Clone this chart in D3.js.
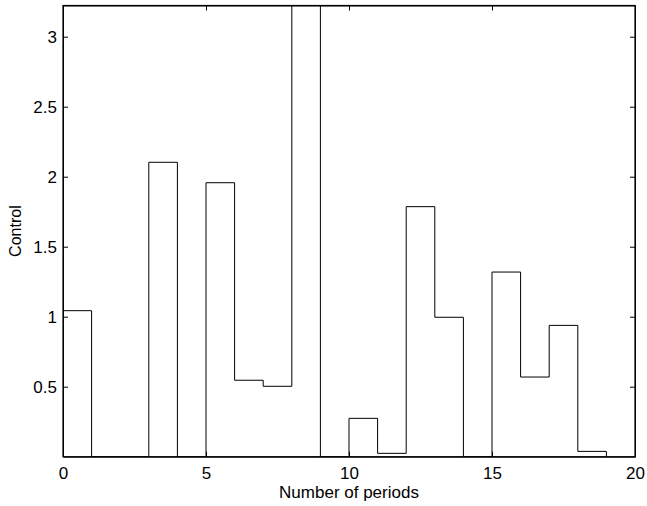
<!DOCTYPE html>
<html>
<head>
<meta charset="utf-8">
<script src="https://cdn.jsdelivr.net/npm/d3@7"></script>
<style>
  html, body { margin: 0; padding: 0; background: #fff; }
  svg { display: block; }
  .axis path, .axis line { stroke: #000; }
</style>
</head>
<body>
<script>
// Data: stairs plot of control per period
const periods = [0, 1, 2, 3, 4, 5, 6, 7, 8, 9, 10, 11, 12, 13, 14, 15, 16, 17, 18, 19];
const control = [1.043, 0, 0, 2.103, 0, 1.957, 0.546, 0.503, 3.5, 0, 0.274, 0.024, 1.786, 0.996, 0, 1.319, 0.569, 0.938, 0.038, 0];
const xTicks = [0, 5, 10, 15, 20];
const yTicks = [0.5, 1, 1.5, 2, 2.5, 3];
const xLabel = "Number of periods";
const yLabel = "Control";

const W = 647, H = 506;
const margin = { left: 63, right: 12, top: 5.5, bottom: 49.3 };
const iw = W - margin.left - margin.right;
const ih = H - margin.top - margin.bottom;
const FONT = '"Liberation Sans", Arial, Helvetica, sans-serif';

const svg = d3.select("body").append("svg").attr("width", W).attr("height", H);

const x = d3.scaleLinear().domain([0, 20]).range([margin.left, margin.left + iw]);
const y = d3.scaleLinear().domain([0, 3.223]).range([margin.top + ih, margin.top]);

svg.append("defs").append("clipPath").attr("id", "clip")
  .append("rect").attr("x", margin.left).attr("y", margin.top).attr("width", iw).attr("height", ih);

const data = periods.map((p, i) => ({ p, v: control[i] }));
const line = d3.line().x(d => x(d.p)).y(d => y(d.v)).curve(d3.curveStepAfter);

svg.append("path")
  .datum(data)
  .attr("clip-path", "url(#clip)")
  .attr("d", line)
  .attr("fill", "none")
  .attr("stroke", "#000")
  .attr("stroke-width", 1);

// axes (ticks inward)
const tk = 5;
const gx = svg.append("g").attr("class", "axis").attr("transform", `translate(0,${margin.top + ih})`)
  .call(d3.axisBottom(x).tickValues(xTicks).tickFormat(d3.format("d")).tickSizeInner(-tk).tickSizeOuter(0).tickPadding(10));
svg.append("g").attr("class", "axis").attr("transform", `translate(0,${margin.top})`)
  .call(d3.axisTop(x).tickValues(xTicks).tickFormat("").tickSizeInner(-tk).tickSizeOuter(0));
const gy = svg.append("g").attr("class", "axis").attr("transform", `translate(${margin.left},0)`)
  .call(d3.axisLeft(y).tickValues(yTicks).tickFormat(d3.format("")).tickSizeInner(-tk).tickSizeOuter(0).tickPadding(6));
svg.append("g").attr("class", "axis").attr("transform", `translate(${margin.left + iw},0)`)
  .call(d3.axisRight(y).tickValues(yTicks).tickFormat("").tickSizeInner(-tk).tickSizeOuter(0));

[gx, gy].forEach(g => g.attr("font-size", null).attr("font-family", null)
  .selectAll(".tick text").style("font-family", FONT).style("font-size", "17px").style("fill", "#000"));

// box
svg.append("rect").attr("x", margin.left).attr("y", margin.top).attr("width", iw).attr("height", ih)
  .attr("fill", "none").attr("stroke", "#000").attr("stroke-width", 1.2);

svg.append("text")
  .attr("x", margin.left + iw / 2).attr("y", 498)
  .attr("text-anchor", "middle")
  .style("font-family", FONT)
  .style("font-size", "17px")
  .text(xLabel);

svg.append("text")
  .attr("transform", `translate(21,${margin.top + ih / 2}) rotate(-90)`)
  .attr("text-anchor", "middle")
  .style("font-family", FONT)
  .style("font-size", "16px")
  .text(yLabel);
</script>
</body>
</html>
